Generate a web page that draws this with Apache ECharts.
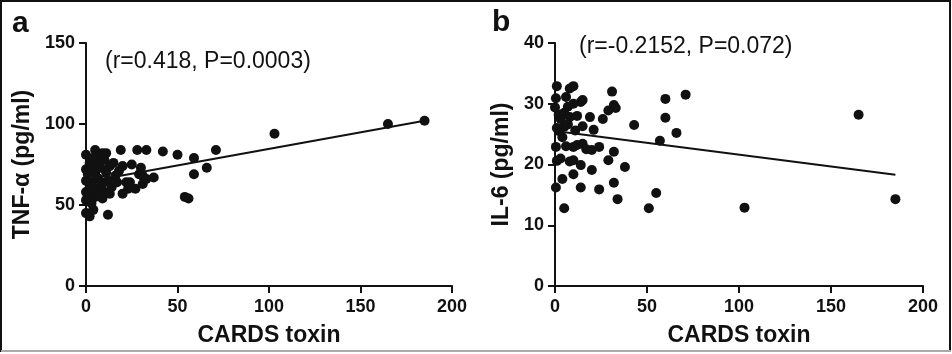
<!DOCTYPE html>
<html>
<head>
<meta charset="utf-8">
<script src="https://cdn.jsdelivr.net/npm/echarts@6/dist/echarts.min.js"></script>
<style>
  html, body { margin: 0; padding: 0; background: #fff; }
  #main { width: 952px; height: 354px; }
</style>
</head>
<body>
<div id="main"></div>
<script>
// panel a: CARDS toxin vs TNF-alpha
const tnfPoints = [
  [0, 45], [2, 43], [4, 47], [12, 44], [0, 53], [1, 56], [3, 51], [5, 55], [9, 54], [10, 58],
  [14, 61], [20, 57], [23, 60], [22, 64], [0, 58], [0, 65], [0, 72], [0, 81], [2, 76], [1, 69],
  [3, 64], [4, 60], [5, 70], [5, 84], [6, 80], [7, 75], [7, 66], [8, 62], [8, 73], [9, 82],
  [10, 78], [11, 70], [12, 65], [13, 74], [15, 76], [16, 68], [18, 71], [19, 84], [20, 74], [25, 75],
  [28, 84], [33, 84], [30, 73], [31, 68], [31, 63], [29, 69], [37, 67], [42, 83], [50, 81], [59, 79],
  [59, 69], [66, 73], [71, 84], [54, 55], [56, 54], [103, 94], [165, 100], [185, 102], [2, 62], [3, 73],
  [6, 58], [4, 79], [6, 67], [9, 63], [11, 82], [13, 57], [17, 64], [24, 64], [27, 60], [33, 66]
];
const tnfFit = [[0, 64.2], [185, 102]];

// panel b: CARDS toxin vs IL-6
const il6Points = [
  [185, 14.3], [165, 28.2], [103, 12.9], [71, 31.5], [66, 25.2], [60, 30.8], [60, 27.7], [57, 23.9], [55, 15.3], [51, 12.8],
  [43, 26.5], [38, 19.6], [34, 14.3], [32, 17], [32, 22.1], [31, 32], [32, 29.8], [33, 29.3], [29, 28.9], [29, 20.7],
  [26, 27.5], [24, 15.9], [24, 22.9], [21, 25.7], [20, 19.1], [19, 27.8], [20, 22.4], [15, 30.6], [14, 30.3], [15, 26.3],
  [15, 23.4], [14, 19.9], [14, 16.2], [10, 32.9], [8, 32.5], [10, 30], [11, 25.6], [10, 22.9], [10, 20.7], [10, 18.4],
  [6, 31.1], [5, 28.5], [5, 26.2], [7, 26.6], [5, 12.8], [4, 17.6], [1, 32.9], [0.5, 30.9], [0, 29.4], [2, 28.2],
  [0.5, 22.9], [1, 20.6], [0.5, 16.2], [3, 27.5], [4, 24.5], [2, 25.5], [6, 23], [8, 27.8], [12, 23.2], [8, 20.5],
  [3, 21], [7, 29.5], [17, 22.5], [12, 28], [1, 26]
];
const il6Fit = [[0, 25.5], [185, 18.3]];

const xTitle = 'CARDS toxin';
const statsA = '(r=0.418, P=0.0003)';
const statsB = '(r=-0.2152, P=0.072)';

const FONT = '"Liberation Sans", Arial, Helvetica, sans-serif';
const INK = '#111';

const chart = echarts.init(document.getElementById('main'));

function xAxisFor(gridIndex) {
  return {
    gridIndex,
    type: 'value',
    min: 0, max: 200, interval: 50,
    name: xTitle,
    nameLocation: 'middle',
    nameGap: 38,
    nameTextStyle: { fontFamily: FONT, fontWeight: 'bold', fontSize: 23, color: INK },
    axisLine: { show: true, lineStyle: { color: INK, width: 2 } },
    axisTick: { show: true, length: 7, lineStyle: { color: INK, width: 2 } },
    axisLabel: { fontFamily: FONT, fontWeight: 'bold', fontSize: 18, color: INK, margin: 12 },
    splitLine: { show: false }
  };
}

function yAxisFor(gridIndex, max, interval, name, gap) {
  return {
    gridIndex,
    type: 'value',
    min: 0, max, interval,
    name,
    nameLocation: 'middle',
    nameGap: gap,
    nameTextStyle: { fontFamily: FONT, fontWeight: 'bold', fontSize: 23, color: INK },
    axisLine: { show: true, lineStyle: { color: INK, width: 2 } },
    axisTick: { show: true, length: 7, lineStyle: { color: INK, width: 2 } },
    axisLabel: { fontFamily: FONT, fontWeight: 'bold', fontSize: 18, color: INK, margin: 11 },
    splitLine: { show: false }
  };
}

const option = {
  backgroundColor: '#fff',
  animation: false,
  grid: [
    { left: 86, top: 43, width: 366, height: 243 },
    { left: 555, top: 43, width: 368, height: 243 }
  ],
  xAxis: [xAxisFor(0), xAxisFor(1)],
  yAxis: [
    yAxisFor(0, 150, 50, 'TNF-α (pg/ml)', 52),
    yAxisFor(1, 40, 10, 'IL-6 (pg/ml)', 42)
  ],
  series: [
    {
      type: 'scatter', xAxisIndex: 0, yAxisIndex: 0,
      data: tnfPoints, symbolSize: 10,
      itemStyle: { color: INK, opacity: 1 }
    },
    {
      type: 'line', xAxisIndex: 0, yAxisIndex: 0,
      data: tnfFit, symbol: 'none',
      lineStyle: { color: INK, width: 2 }
    },
    {
      type: 'scatter', xAxisIndex: 1, yAxisIndex: 1,
      data: il6Points, symbolSize: 10,
      itemStyle: { color: INK, opacity: 1 }
    },
    {
      type: 'line', xAxisIndex: 1, yAxisIndex: 1,
      data: il6Fit, symbol: 'none',
      lineStyle: { color: INK, width: 2 }
    }
  ],
  graphic: [
    { type: 'rect', shape: { x: 1, y: 1, width: 949, height: 350 },
      style: { fill: 'none', stroke: INK, lineWidth: 2 } },
    { type: 'line', shape: { x1: 1, y1: 351, x2: 951, y2: 351 },
      style: { stroke: '#aaa', lineWidth: 2 } },
    { type: 'text', left: 12, top: 9,
      style: { text: 'a', font: 'bold 30px ' + FONT, fill: INK } },
    { type: 'text', left: 492, top: 8,
      style: { text: 'b', font: 'bold 30px ' + FONT, fill: INK } },
    { type: 'text', left: 105, top: 50,
      style: { text: statsA, font: '23px ' + FONT, fill: INK } },
    { type: 'text', left: 579, top: 35,
      style: { text: statsB, font: '23px ' + FONT, fill: INK } }
  ]
};

chart.setOption(option);
</script>
</body>
</html>
